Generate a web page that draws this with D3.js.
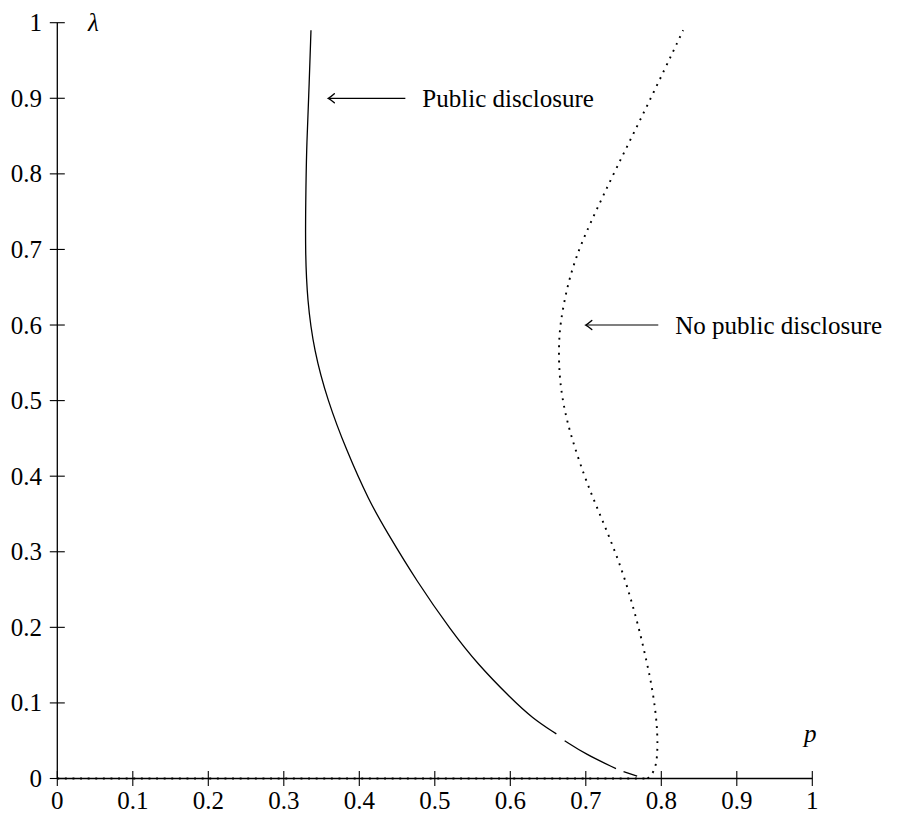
<!DOCTYPE html>
<html>
<head>
<meta charset="utf-8">
<script src="https://cdn.jsdelivr.net/npm/d3@7"></script>
<style>
  html, body { margin: 0; padding: 0; background: #fff; }
  svg { display: block; }
</style>
</head>
<body>
<svg id="chart" width="899" height="816"></svg>
<script>
// ---- data ----
const xTicks = [0, 0.1, 0.2, 0.3, 0.4, 0.5, 0.6, 0.7, 0.8, 0.9, 1];
const yTicks = [0, 0.1, 0.2, 0.3, 0.4, 0.5, 0.6, 0.7, 0.8, 0.9, 1];
const xTickLabels = ["0", "0.1", "0.2", "0.3", "0.4", "0.5", "0.6", "0.7", "0.8", "0.9", "1"];
const yTickLabels = ["0", "0.1", "0.2", "0.3", "0.4", "0.5", "0.6", "0.7", "0.8", "0.9", "1"];

// Public disclosure (solid); null marks a break in the curve
const publicP      = [0.768, 0.750, null, 0.740, 0.700, 0.672, null, 0.661, 0.629, 0.601, 0.557, 0.522, 0.476, 0.436, 0.413, 0.383, 0.358, 0.340, 0.331, 0.3285, 0.329, 0.330, 0.333, 0.336];
const publicLambda = [0.003, 0.009, null, 0.013, 0.032, 0.050, null, 0.059, 0.080, 0.106, 0.151, 0.195, 0.261, 0.327, 0.367, 0.434, 0.500, 0.566, 0.633, 0.699, 0.760, 0.832, 0.900, 0.990];

// No public disclosure (dotted): segment along the axis, then the curve
const noPublicAxisP      = [0.000, 0.782];
const noPublicAxisLambda = [0.000, 0.000];
const noPublicP      = [0.782, 0.791, 0.795, 0.795, 0.792, 0.786, 0.780, 0.773, 0.762, 0.748, 0.731, 0.713, 0.698, 0.681, 0.671, 0.665, 0.664, 0.666, 0.675, 0.687, 0.703, 0.741, 0.781, 0.829];
const noPublicLambda = [0.000, 0.009, 0.029, 0.060, 0.093, 0.130, 0.157, 0.188, 0.230, 0.276, 0.320, 0.363, 0.400, 0.451, 0.490, 0.530, 0.570, 0.602, 0.650, 0.690, 0.729, 0.809, 0.889, 0.990];

const seriesLabels = ["Public disclosure", "No public disclosure"];
// annotation arrows: [lambda, pFrom, pTo]
const arrowPublic   = [0.9, 0.461, 0.359];
const arrowNoPublic = [0.6, 0.796, 0.700];

// ---- layout ----
const FONT = '"Liberation Serif", "DejaVu Serif", serif';
const svg = d3.select("#chart");
svg.append("rect").attr("width", 899).attr("height", 816).attr("fill", "#fff");

const x = d3.scaleLinear().domain([0, 1]).range([57.3, 812.3]);
const y = d3.scaleLinear().domain([0, 1]).range([778.5, 22.7]);

const axisColor = "#000";
const fontSize = 25;

// axes lines
svg.append("line").attr("x1", x(0)).attr("x2", x(1)).attr("y1", y(0)).attr("y2", y(0))
  .attr("stroke", axisColor).attr("stroke-width", 1.3);
svg.append("line").attr("x1", x(0)).attr("x2", x(0)).attr("y1", y(0)).attr("y2", y(1))
  .attr("stroke", axisColor).attr("stroke-width", 1.3);

// x ticks
const xg = svg.append("g");
xTicks.forEach((t, i) => {
  xg.append("line").attr("x1", x(t)).attr("x2", x(t)).attr("y1", y(0) - 7.5).attr("y2", y(0) + 7.5)
    .attr("stroke", axisColor).attr("stroke-width", 1.1);
  xg.append("text").attr("x", x(t)).attr("y", 809).attr("text-anchor", "middle")
    .attr("font-family", FONT).attr("font-size", fontSize).text(xTickLabels[i]);
});
// y ticks
const yg = svg.append("g");
yTicks.forEach((t, i) => {
  yg.append("line").attr("x1", x(0) - 7.5).attr("x2", x(0) + 7.5).attr("y1", y(t)).attr("y2", y(t))
    .attr("stroke", axisColor).attr("stroke-width", 1.1);
  yg.append("text").attr("x", 42).attr("y", y(t) + 8.5).attr("text-anchor", "end")
    .attr("font-family", FONT).attr("font-size", fontSize).text(yTickLabels[i]);
});

// axis titles
svg.append("text").attr("x", 88).attr("y", 31).attr("font-size", fontSize)
  .attr("font-family", FONT).attr("font-style", "italic").text("λ");
svg.append("text").attr("x", 804).attr("y", 742).attr("font-size", fontSize)
  .attr("font-family", FONT).attr("font-style", "italic").text("p");

// curves
const publicData = publicP.map((p, i) => [p, publicLambda[i]]);
const noPublicAxisData = noPublicAxisP.map((p, i) => [p, noPublicAxisLambda[i]]);
const noPublicData = noPublicP.map((p, i) => [p, noPublicLambda[i]]);

svg.append("path").datum(publicData).attr("d", d3.line()
    .defined(d => d[0] != null && d[1] != null)
    .x(d => x(d[0])).y(d => y(d[1])).curve(d3.curveBasis))
  .attr("fill", "none").attr("stroke", "#000").attr("stroke-width", 1.3);

const dotted = sel => sel.attr("fill", "none").attr("stroke", "#000").attr("stroke-width", 1.9)
  .attr("stroke-dasharray", "1.9 5.7");

svg.append("path").datum(noPublicAxisData).attr("d", d3.line()
    .x(d => x(d[0])).y(d => y(d[1])))
  .call(dotted);
svg.append("path").datum(noPublicData).attr("d", d3.line()
    .x(d => x(d[0])).y(d => y(d[1])).curve(d3.curveBasis))
  .call(dotted);

// annotations
function arrow(a, label) {
  const yy = y(a[0]), x0 = x(a[1]), x1 = x(a[2]);
  svg.append("line").attr("x1", x0).attr("x2", x1 + 1).attr("y1", yy).attr("y2", yy)
    .attr("stroke", "#000").attr("stroke-width", 1.2);
  svg.append("path")
    .attr("d", `M${x1 + 6},${yy - 4.5} Q${x1 + 2},${yy - 1} ${x1},${yy} Q${x1 + 2},${yy + 1} ${x1 + 6},${yy + 4.5}`)
    .attr("fill", "none").attr("stroke", "#000").attr("stroke-width", 1.4).attr("stroke-linecap", "round");
  svg.append("text").attr("x", x0 + 17).attr("y", yy + 8.5).attr("font-family", FONT)
    .attr("font-size", fontSize).text(label);
}
arrow(arrowPublic, seriesLabels[0]);
arrow(arrowNoPublic, seriesLabels[1]);
</script>
</body>
</html>
